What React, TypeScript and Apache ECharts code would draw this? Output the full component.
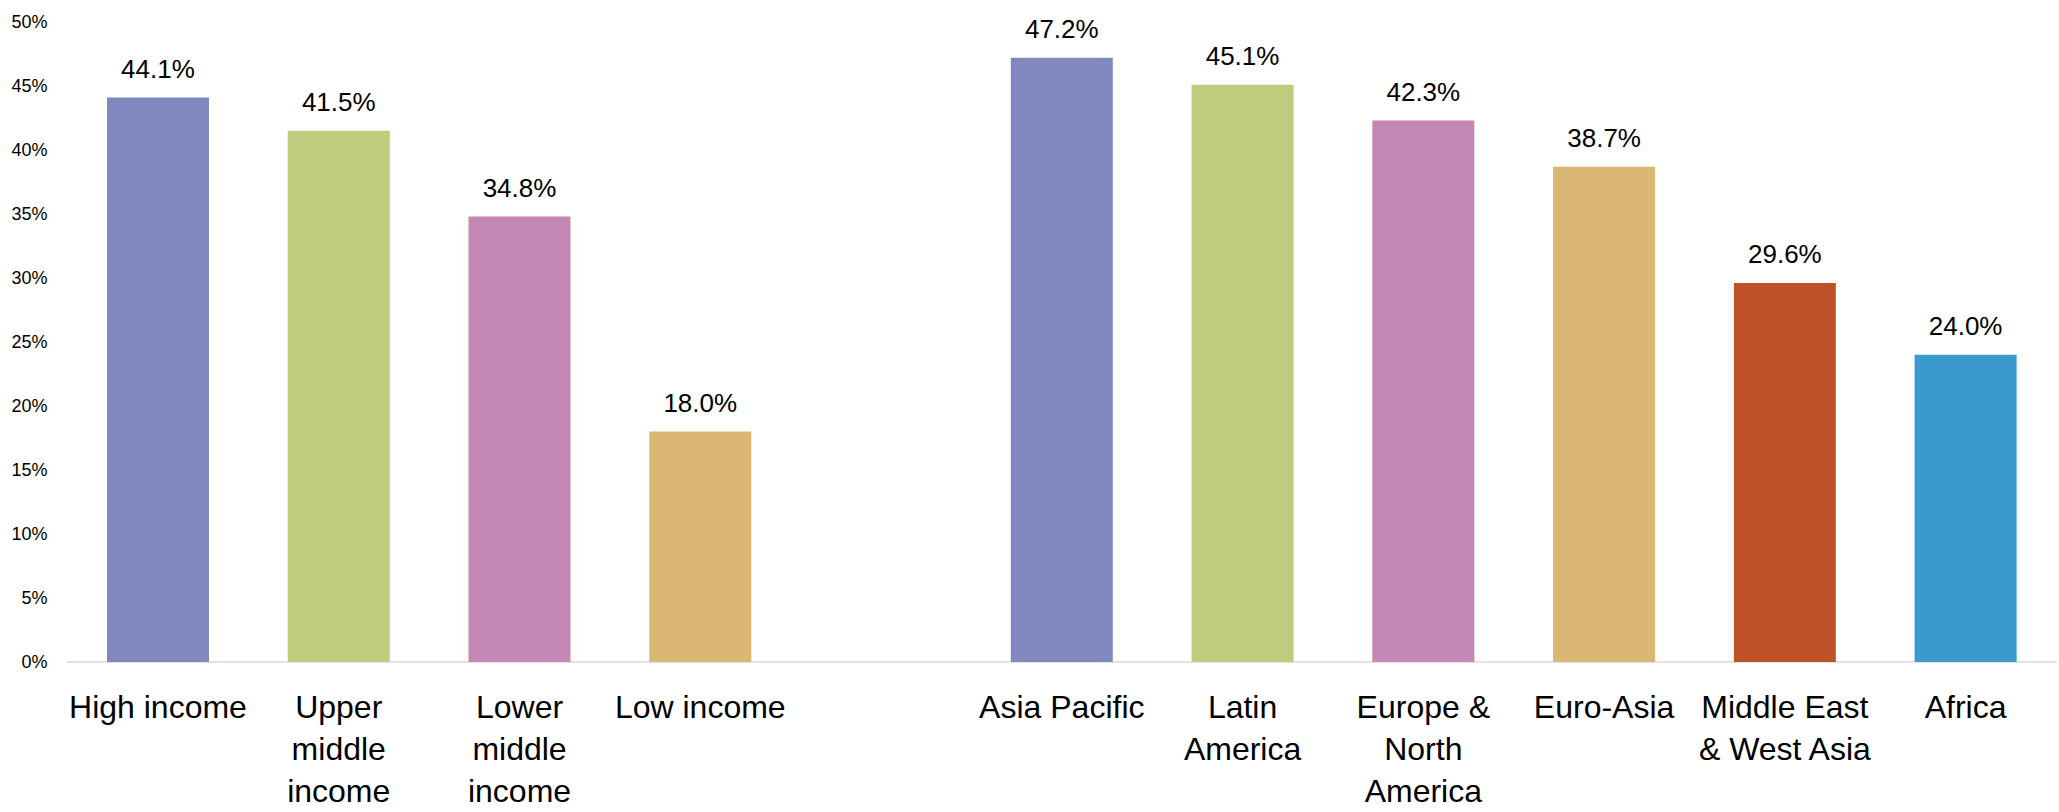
import React, { useEffect, useRef } from "react";
import * as echarts from "echarts";

const categories = [
  "High income",
  "Upper\nmiddle\nincome",
  "Lower\nmiddle\nincome",
  "Low income",
  "",
  "Asia Pacific",
  "Latin\nAmerica",
  "Europe &\nNorth\nAmerica",
  "Euro-Asia",
  "Middle East\n& West Asia",
  "Africa",
];
const values: (number | null)[] = [44.1, 41.5, 34.8, 18.0, null, 47.2, 45.1, 42.3, 38.7, 29.6, 24.0];
const barColors = [
  "#8089BF",
  "#BFCC7E",
  "#C388B3",
  "#DAB873",
  "#FFFFFF",
  "#8089BF",
  "#BFCC7E",
  "#C388B3",
  "#DAB873",
  "#BE5227",
  "#3A9ACD",
];
const yTicks = { min: 0, max: 50, interval: 5 };

const FONT = '"Liberation Sans Narrow", "Arial Narrow", "Liberation Sans", Arial, sans-serif';

export default function App() {
  const ref = useRef<HTMLDivElement>(null);
  useEffect(() => {
    if (!ref.current) return;
    const chart = echarts.init(ref.current, null, { renderer: "svg" });
    chart.setOption({
      animation: false,
      backgroundColor: "#ffffff",
      grid: { left: 67.6, right: 3, top: 22, bottom: 147, containLabel: false },
      xAxis: {
        type: "category",
        data: categories,
        axisTick: { show: false },
        axisLine: { show: true, lineStyle: { color: "#E3E3E3", width: 2 } },
        axisLabel: {
          interval: 0,
          margin: 24,
          color: "#000000",
          fontFamily: FONT,
          fontSize: 32,
          lineHeight: 42,
        },
      },
      yAxis: {
        type: "value",
        min: yTicks.min,
        max: yTicks.max,
        interval: yTicks.interval,
        splitLine: { show: false },
        axisLine: { show: false },
        axisTick: { show: false },
        axisLabel: {
          formatter: "{value}%",
          margin: 20,
          color: "#000000",
          fontFamily: FONT,
          fontSize: 18,
        },
      },
      series: [
        {
          type: "bar",
          barWidth: 102,
          data: values.map((v, i) => ({ value: v, itemStyle: { color: barColors[i] } })),
          label: {
            show: true,
            position: "top",
            distance: 16,
            color: "#000000",
            fontFamily: FONT,
            fontSize: 26,
            formatter: (p: any) => (p.value == null ? "" : Number(p.value).toFixed(1) + "%"),
          },
        },
      ],
    });
    return () => chart.dispose();
  }, []);
  return (
    <div
      ref={ref}
      style={{ position: "fixed", left: 0, top: 0, width: 2059, height: 812, background: "#fff" }}
    />
  );
}
